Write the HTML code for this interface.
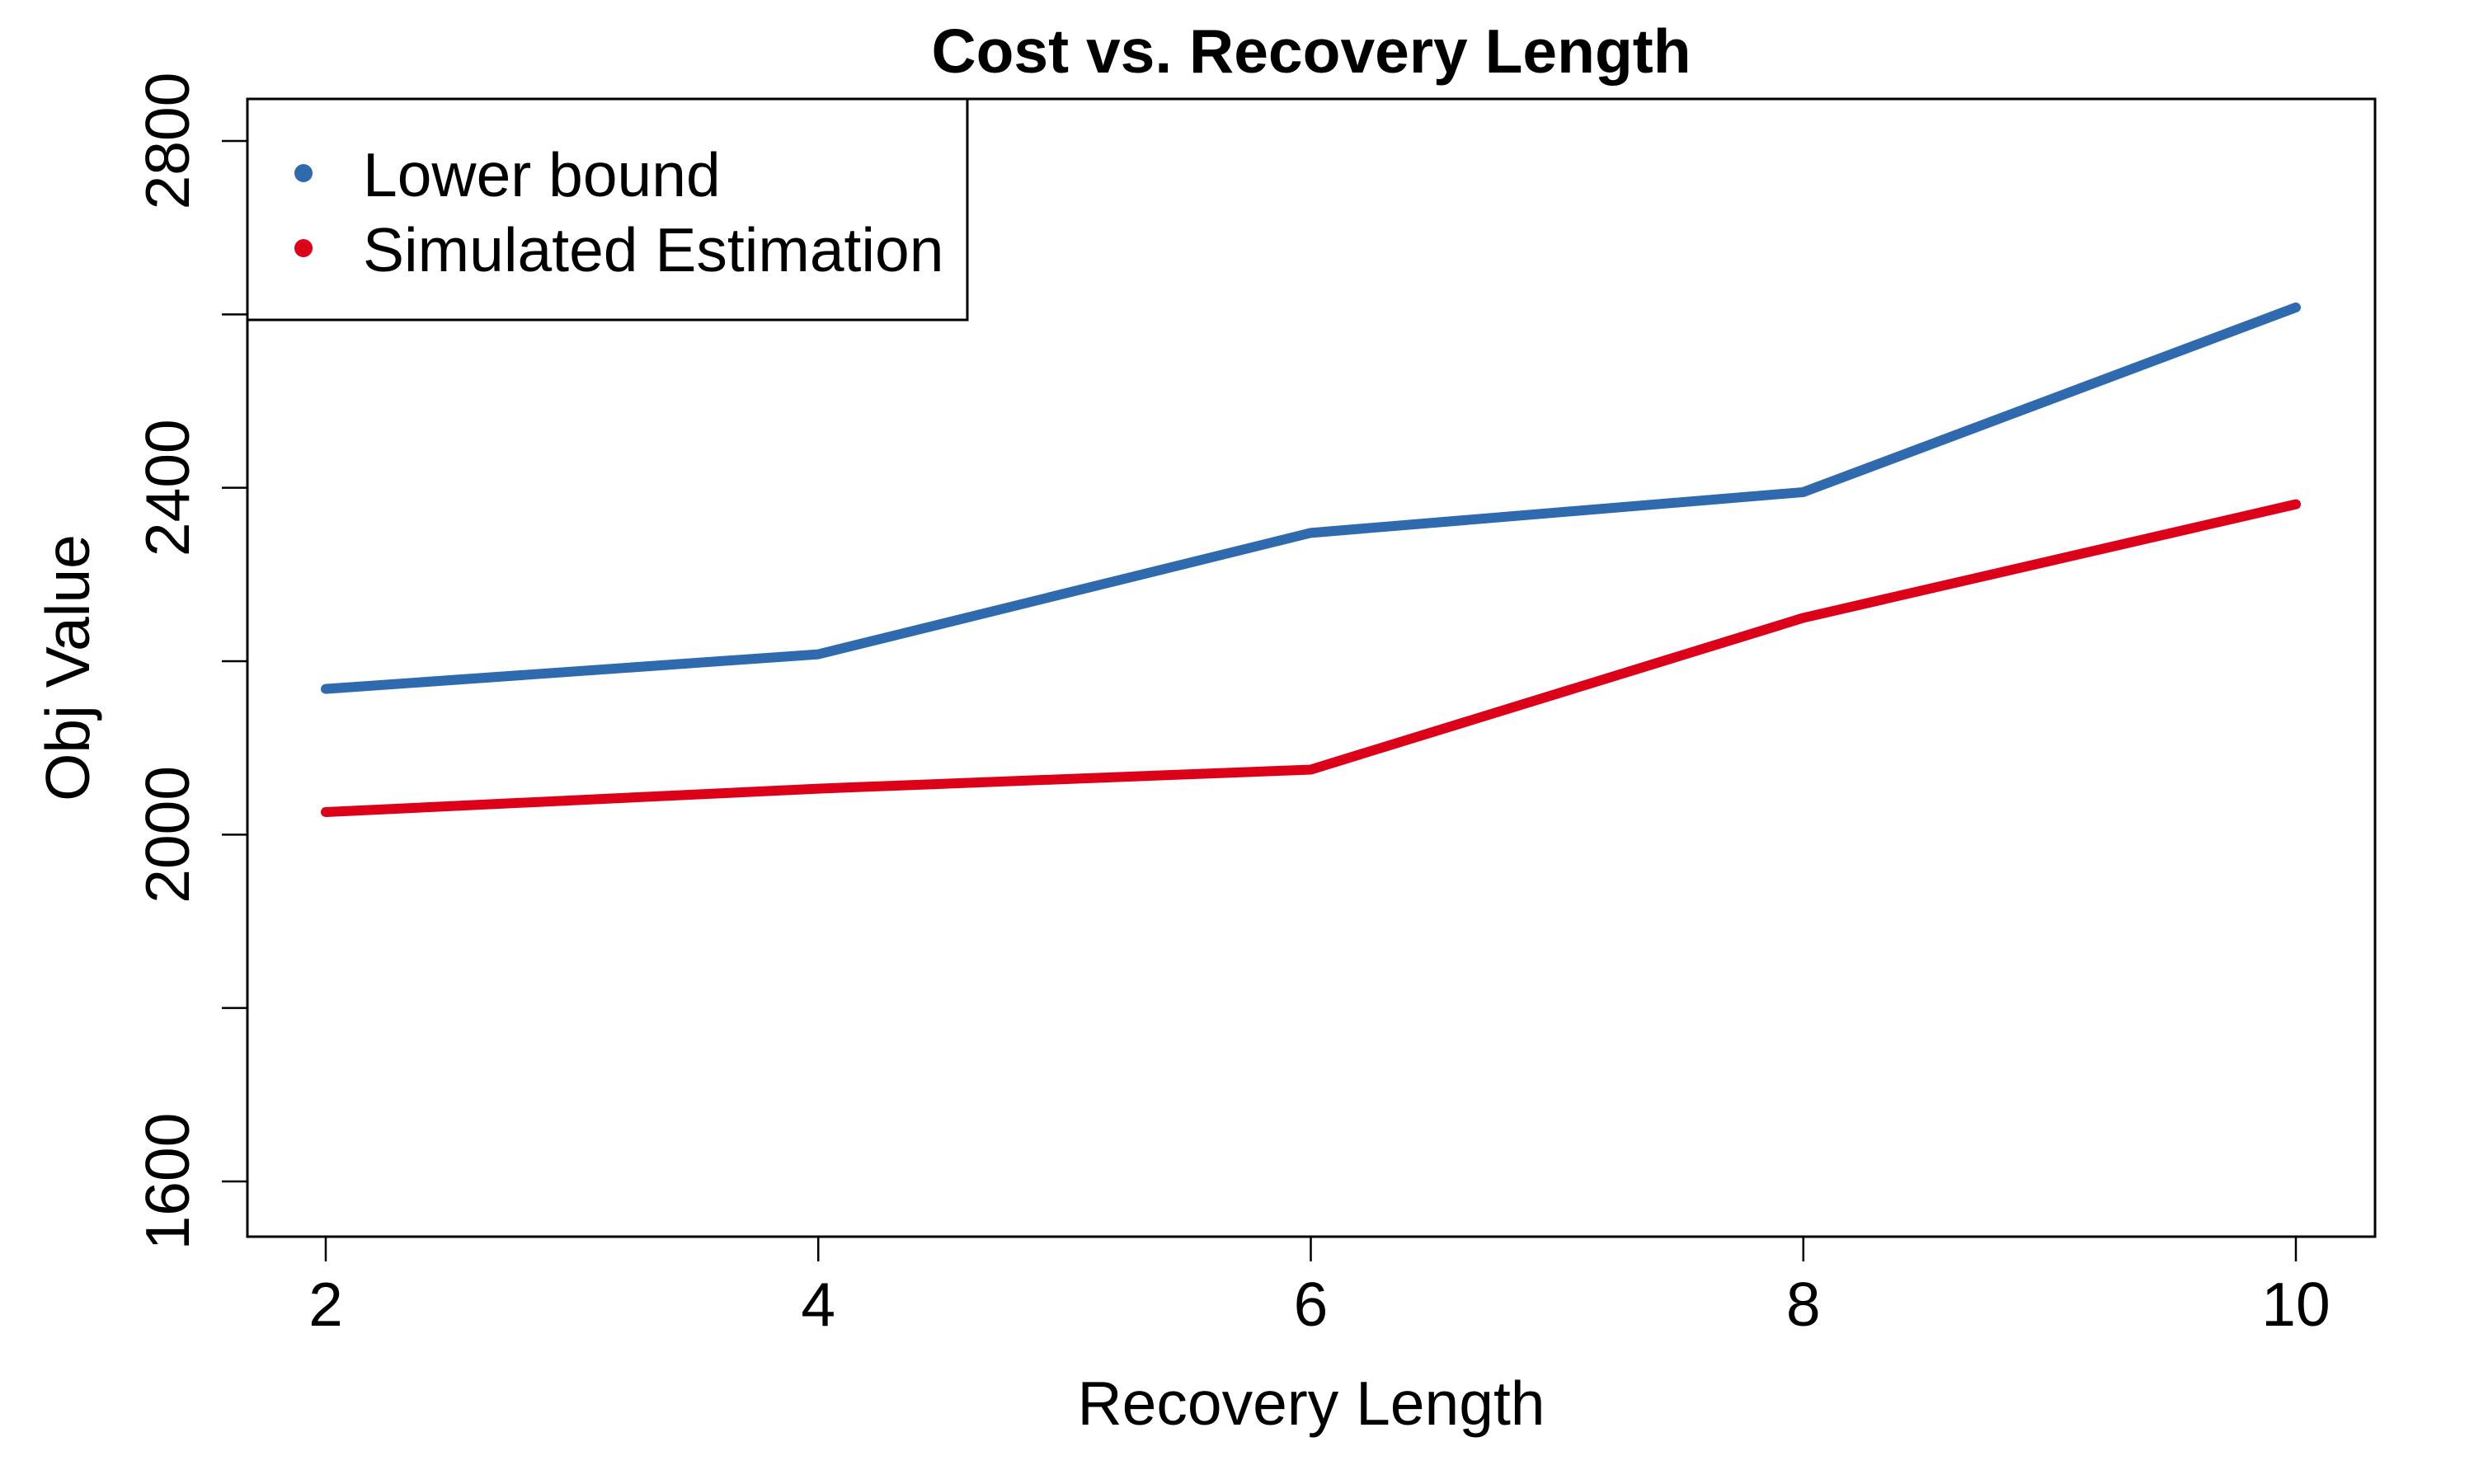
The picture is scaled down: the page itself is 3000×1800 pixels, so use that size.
<!DOCTYPE html>
<html><head><meta charset="utf-8"><style>html,body{margin:0;padding:0;background:#fff}svg{display:block}text{font-family:"Liberation Sans",Arial,sans-serif;fill:#000}</style></head>
<body>
<svg id="chart" width="3000" height="1800" viewBox="0 0 3000 1800" xmlns="http://www.w3.org/2000/svg">
<rect width="3000" height="1800" fill="#fff"/>
<text x="1590" y="88" font-size="75" font-weight="bold" text-anchor="middle">Cost vs. Recovery Length</text>
<g id="axes"></g>
<g id="series"></g>
<rect x="300" y="120" width="2580" height="1380" fill="none" stroke="#000" stroke-width="3"/>
<text x="1590" y="1728" font-size="75" text-anchor="middle">Recovery Length</text>
<text transform="translate(108,810) rotate(-90)" font-size="75" text-anchor="middle">Obj Value</text>
<g>
<rect x="300" y="120" width="873" height="268" fill="#fff" stroke="#000" stroke-width="3"/>
<circle cx="368" cy="210" r="11" fill="#2e6aad"/>
<text x="440" y="238" font-size="75">Lower bound</text>
<circle cx="368" cy="301" r="11" fill="#dc0018"/>
<text x="440" y="329" font-size="75">Simulated Estimation</text>
</g>
</svg>
<script>
const categories=[2,4,6,8,10];
const lowerBound=[2168,2208,2348,2395,2608];
const simulated=[2026,2053,2075,2250,2381];
const xTicks=[2,4,6,8,10];
const yTicks=[1600,1800,2000,2200,2400,2600,2800];
const yLabels=[1600,2000,2400,2800];
const NS="http://www.w3.org/2000/svg";
function xs(v){return 395+(v-2)/8*(2784-395);}
function ys(v){return 1433-(v-1600)/1200*(1433-171);}
const axes=document.getElementById('axes'),series=document.getElementById('series');
function mk(tag,attrs,parent){const e=document.createElementNS(NS,tag);for(const k in attrs)e.setAttribute(k,attrs[k]);parent.appendChild(e);return e;}
xTicks.forEach(t=>{
  const l=mk('line',{x1:xs(t),x2:xs(t),y1:1500,y2:1530,stroke:'#000','stroke-width':2.5},axes);
  
  
  const tx=mk('text',{x:xs(t),y:1608,'font-size':75,'text-anchor':'middle'},axes);
  tx.textContent=t;
  
  
});
yTicks.forEach(t=>{
  const l=mk('line',{x1:269,x2:300,y1:ys(t),y2:ys(t),stroke:'#000','stroke-width':2.5},axes);
  
  
});
yLabels.forEach(t=>{
  const tx=mk('text',{transform:`translate(229,${ys(t)}) rotate(-90)`,'font-size':75,'text-anchor':'middle'},axes);
  tx.textContent=t;
  
  
});
function line(vals,color,name){
  const p=mk('polyline',{points:categories.map((c,i)=>xs(c)+','+ys(vals[i])).join(' '),fill:'none',stroke:color,'stroke-width':12,'stroke-linejoin':'round','stroke-linecap':'round'},series);
  
  
}
line(lowerBound,'#2e6aad','lower-bound-line');
line(simulated,'#dc0018','simulated-estimation-line');
</script>
</body></html>
